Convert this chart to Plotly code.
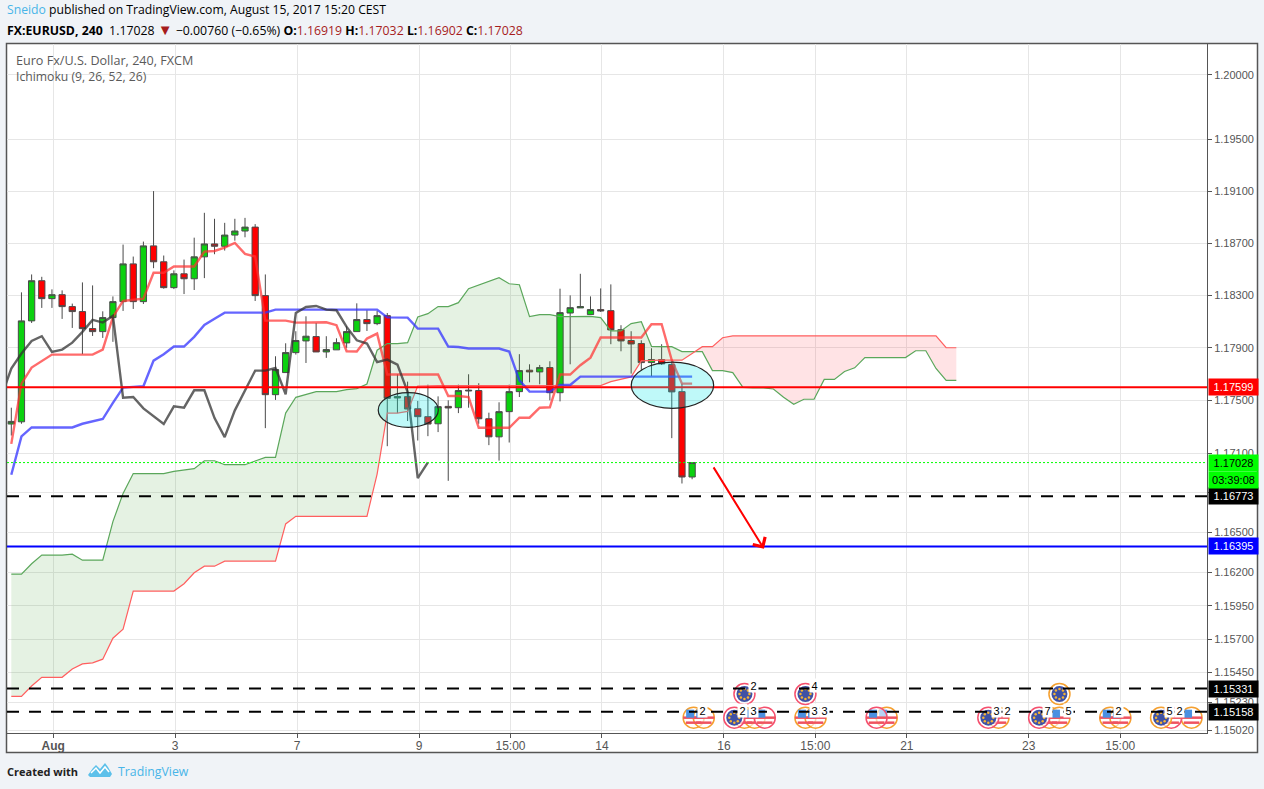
# EUR/USD 4h chart with Ichimoku cloud, TradingView style
import math
import plotly.graph_objects as go

opens = [1.17320, 1.17337, 1.18105, 1.18412, 1.18275, 1.18305, 1.18214, 1.18176, 1.18046, 1.18023,
         1.18130, 1.18252, 1.18541, 1.18252, 1.18679, 1.18557, 1.18359, 1.18465, 1.18427, 1.18595,
         1.18694, 1.18676, 1.18762, 1.18793, 1.18823, 1.18298, 1.17543, 1.17711, 1.17863, 1.17952,
         1.17985, 1.17868, 1.17884, 1.17937, 1.18023, 1.18115, 1.18084, 1.18145, 1.17518, 1.17528,
         1.17436, 1.17376, 1.17322, 1.17454, 1.17444, 1.17571, 1.17574, 1.17360, 1.17223, 1.17414,
         1.17566, 1.17729, 1.17716, 1.17749, 1.17558, 1.18165, 1.18204, 1.18153, 1.18191, 1.18183,
         1.18038, 1.17955, 1.17932, 1.17787, 1.17810, 1.17772, 1.17566, 1.16919]
highs = [1.17444, 1.18323, 1.18460, 1.18442, 1.18346, 1.18338, 1.18237, 1.18399, 1.18376, 1.18178,
         1.18292, 1.18689, 1.18597, 1.18712, 1.19100, 1.18605, 1.18491, 1.18574, 1.18742, 1.18933,
         1.18887, 1.18856, 1.18887, 1.18894, 1.18846, 1.18460, 1.17835, 1.17934, 1.18026, 1.18140,
         1.18089, 1.17988, 1.17972, 1.18064, 1.18239, 1.18186, 1.18181, 1.18165, 1.17698, 1.17642,
         1.17495, 1.17619, 1.17530, 1.17500, 1.17619, 1.17698, 1.17630, 1.17406, 1.17485, 1.17619,
         1.17851, 1.17774, 1.17769, 1.17797, 1.18351, 1.18300, 1.18465, 1.18292, 1.18353, 1.18384,
         1.18072, 1.18026, 1.17957, 1.17896, 1.17927, 1.17792, 1.17627, 1.17032]
lows = [1.17233, 1.17322, 1.18089, 1.18204, 1.18204, 1.18120, 1.18051, 1.17851, 1.17990, 1.17975,
        1.17945, 1.18181, 1.18196, 1.18234, 1.18508, 1.18351, 1.18348, 1.18310, 1.18341, 1.18432,
        1.18615, 1.18643, 1.18719, 1.18745, 1.18257, 1.17289, 1.17503, 1.17711, 1.17848, 1.17784,
        1.17868, 1.17823, 1.17884, 1.17899, 1.18023, 1.18028, 1.18072, 1.17152, 1.17403, 1.17343,
        1.17195, 1.17228, 1.17259, 1.16890, 1.17403, 1.17444, 1.17322, 1.17160, 1.17043, 1.17180,
        1.17525, 1.17637, 1.17622, 1.17500, 1.17492, 1.17774, 1.18204, 1.18153, 1.18173, 1.17927,
        1.17873, 1.17703, 1.17729, 1.17683, 1.17769, 1.17213, 1.16870, 1.16902]
closes = [1.17340, 1.18105, 1.18412, 1.18275, 1.18305, 1.18214, 1.18176, 1.18046, 1.18023, 1.18130,
          1.18252, 1.18541, 1.18252, 1.18679, 1.18557, 1.18359, 1.18465, 1.18427, 1.18595, 1.18694,
          1.18676, 1.18762, 1.18793, 1.18823, 1.18298, 1.17543, 1.17734, 1.17863, 1.17955, 1.17988,
          1.17868, 1.17886, 1.17939, 1.18023, 1.18115, 1.18084, 1.18145, 1.17515, 1.17528, 1.17434,
          1.17376, 1.17320, 1.17452, 1.17442, 1.17574, 1.17576, 1.17360, 1.17223, 1.17414, 1.17566,
          1.17726, 1.17716, 1.17749, 1.17558, 1.18168, 1.18206, 1.18214, 1.18191, 1.18181, 1.18036,
          1.17952, 1.17929, 1.17787, 1.17810, 1.17777, 1.17564, 1.16919, 1.17028]

tenkan = [1.17170, 1.17627, 1.17749, 1.17800, 1.17848, 1.17848, 1.17848, 1.17848, 1.17848, 1.17886,
          1.18135, 1.18257, 1.18267, 1.18275, 1.18473, 1.18473, 1.18521, 1.18521, 1.18521, 1.18635,
          1.18640, 1.18666, 1.18701, 1.18618, 1.18597, 1.18107, 1.18107, 1.18107, 1.18092, 1.18094,
          1.18094, 1.18094, 1.18072, 1.17873, 1.17871, 1.17970, 1.18008, 1.17696, 1.17696, 1.17696,
          1.17696, 1.17696, 1.17696, 1.17533, 1.17533, 1.17525, 1.17292, 1.17292, 1.17292, 1.17292,
          1.17368, 1.17368, 1.17444, 1.17447, 1.17696, 1.17696, 1.17767, 1.17825, 1.17978, 1.17978,
          1.17978, 1.17978, 1.17978, 1.18079, 1.18079, 1.17805, 1.17627, 1.17627]
kijun = [1.16936, 1.17226, 1.17294, 1.17294, 1.17294, 1.17294, 1.17294, 1.17322, 1.17340, 1.17358,
         1.17480, 1.17597, 1.17602, 1.17607, 1.17802, 1.17851, 1.17909, 1.17909, 1.17983, 1.18074,
         1.18122, 1.18168, 1.18168, 1.18168, 1.18168, 1.18168, 1.18191, 1.18191, 1.18191, 1.18191,
         1.18191, 1.18191, 1.18191, 1.18191, 1.18191, 1.18191, 1.18191, 1.18132, 1.18130, 1.18130,
         1.18046, 1.18046, 1.18046, 1.17909, 1.17906, 1.17894, 1.17894, 1.17894, 1.17894, 1.17871,
         1.17652, 1.17566, 1.17566, 1.17566, 1.17617, 1.17617, 1.17680, 1.17680, 1.17680, 1.17680,
         1.17680, 1.17680, 1.17680, 1.17680, 1.17680, 1.17680, 1.17680, 1.17680]
# lagging line starts one bar left of the first candle
chikou = [1.17525, 1.17741, 1.17856, 1.17952, 1.17988, 1.17868, 1.17886, 1.17939, 1.18021, 1.18112,
          1.18092, 1.18143, 1.17520, 1.17525, 1.17439, 1.17378, 1.17320, 1.17454, 1.17444, 1.17576,
          1.17576, 1.17365, 1.17221, 1.17424, 1.17576, 1.17726, 1.17726, 1.17746, 1.17546, 1.18165,
          1.18211, 1.18219, 1.18191, 1.18186, 1.18059, 1.17957, 1.17932, 1.17790, 1.17810, 1.17772,
          1.17564, 1.16911, 1.17030]
senkou_a = [1.16187, 1.16187, 1.16265, 1.16330, 1.16330, 1.16330, 1.16337, 1.16292, 1.16292, 1.16292,
            1.16582, 1.16795, 1.16945, 1.16945, 1.16945, 1.16945, 1.16962, 1.16970, 1.16982, 1.17042,
            1.17042, 1.17012, 1.17012, 1.17012, 1.17040, 1.17067, 1.17067, 1.17403, 1.17523, 1.17543,
            1.17566, 1.17566, 1.17566, 1.17581, 1.17589, 1.17624, 1.17881, 1.17932, 1.17932, 1.17939,
            1.18135, 1.18160, 1.18214, 1.18214, 1.18244, 1.18351, 1.18381, 1.18409, 1.18435, 1.18389,
            1.18381, 1.18138, 1.18153, 1.18153, 1.18138, 1.18138, 1.18138, 1.18140, 1.18130, 1.18028,
            1.18028, 1.18084, 1.18099, 1.17911, 1.17908, 1.17908, 1.17871, 1.17871, 1.17870, 1.17726,
            1.17726, 1.17711, 1.17598, 1.17595, 1.17595, 1.17586, 1.17523, 1.17470, 1.17508, 1.17508,
            1.17659, 1.17659, 1.17719, 1.17747, 1.17825, 1.17825, 1.17825, 1.17825, 1.17825, 1.17877,
            1.17877, 1.17742, 1.17651, 1.17651]
senkou_b = [1.15272, 1.15272, 1.15350, 1.15415, 1.15415, 1.15415, 1.15477, 1.15515, 1.15523, 1.15550,
            1.15707, 1.15775, 1.16060, 1.16060, 1.16060, 1.16060, 1.16060, 1.16115, 1.16197, 1.16247,
            1.16247, 1.16285, 1.16285, 1.16285, 1.16285, 1.16285, 1.16285, 1.16565, 1.16622, 1.16622,
            1.16622, 1.16622, 1.16622, 1.16622, 1.16622, 1.16622, 1.16941, 1.17403, 1.17403, 1.17416,
            1.17609, 1.17612, 1.17612, 1.17612, 1.17612, 1.17612, 1.17612, 1.17612, 1.17612, 1.17612,
            1.17612, 1.17612, 1.17612, 1.17612, 1.17612, 1.17612, 1.17612, 1.17612, 1.17612, 1.17642,
            1.17660, 1.17678, 1.17800, 1.17805, 1.17805, 1.17805, 1.17805, 1.17856, 1.17908, 1.17908,
            1.17976, 1.17991, 1.17991, 1.17991, 1.17991, 1.17991, 1.17991, 1.17991, 1.17991, 1.17991,
            1.17991, 1.17991, 1.17991, 1.17991, 1.17991, 1.17991, 1.17991, 1.17991, 1.17991, 1.17991,
            1.17991, 1.17991, 1.17900, 1.17900]

ytick_vals = [1.2, 1.195, 1.191, 1.187, 1.183, 1.179, 1.175, 1.171, 1.168, 1.165,
              1.162, 1.1595, 1.157, 1.1545, 1.1523, 1.1502]
# 1.168 sits wholly behind the black price tag, only its grid line shows
ytick_hidden = [1.168]
xtick_bars = [4, 16, 28, 40, 49, 58, 70, 79, 88, 100, 109]
xtick_text = ["<b>Aug</b>", "3", "7", "9", "15:00", "14", "16", "15:00", "21", "23", "15:00"]

# drawn levels: price, label background, label text, line colour, width, dash
last_price = 1.17028
levels = [(1.17599, "#ff0000", "white", "#ff0000", 2, "solid"),
          (1.17028, "#00ff00", "black", "#00ff00", 1, "2px,2px"),
          (1.16773, "#000000", "white", "#000000", 2, "12px,10px"),
          (1.16395, "#0000ff", "white", "#0000ff", 2, "solid"),
          (1.15331, "#000000", "white", "#000000", 2, "12px,10px"),
          (1.15158, "#000000", "white", "#000000", 2, "12px,10px")]

# calendar events: bars of the flags on the two rows
row_low = 1.15114
row_high = 1.15290
us_orange = [67, 68, 72, 73, 78, 79, 86, 97, 102, 103, 108, 109, 116]
us_red = [74, 85, 114]
eu_red_low = [71, 96, 101]
eu_orange_low = [113]
eu_red_high = [72, 78]
eu_orange_high = [103]
event_counts_low = [(68, "2"), (72, "2"), (73, "3"), (79, "3"), (80, "3"), (97, "3"), (98, "2"),
                    (102, "7"), (104, "5"), (109, "2"), (114, "5"), (115, "2")]
event_counts_high = [(73, "2"), (79, "4")]
count_low = 1.15165
count_high = 1.15350

# page geometry
W, H = 1264, 789
L, R, T, B = 7, 57, 44, 56
BAR = 10.162  # px per bar
PX_LOG = 15470  # px per unit of ln(price)
FONT = "Liberation Sans"
HEAD = "Open Sans"
BLUE = "#48b5e8"
DARK = "#a61c1c"


def px(x):
    return (x - L) / (W - L - R)


def py(y):
    return 1 - (y - T) / (H - T - B)


def nudge(price, dy):
    return price * math.exp(-dy / PX_LOG)


bars = list(range(len(closes)))
cloud_x = list(range(len(senkou_a)))

fig = go.Figure()

# cloud, split where the two spans cross
cross = next(i for i in cloud_x if senkou_b[i] > senkou_a[i])
t = (senkou_a[cross - 1] - senkou_b[cross - 1]) / (
    (senkou_a[cross - 1] - senkou_b[cross - 1]) + (senkou_b[cross] - senkou_a[cross]))
cross_x = cross - 1 + t
cross_y = senkou_a[cross - 1] + t * (senkou_a[cross] - senkou_a[cross - 1])

fig.add_trace(go.Scatter(
    x=cloud_x[:cross] + [cross_x] + cloud_x[:cross][::-1],
    y=senkou_a[:cross] + [cross_y] + senkou_b[:cross][::-1],
    mode="none", fill="toself", fillcolor="rgba(70,160,60,0.14)"))
fig.add_trace(go.Scatter(
    x=[cross_x] + cloud_x[cross:] + cloud_x[cross:][::-1],
    y=[cross_y] + senkou_a[cross:] + senkou_b[cross:][::-1],
    mode="none", fill="toself", fillcolor="rgba(255,60,70,0.14)"))
fig.add_trace(go.Scatter(x=cloud_x, y=senkou_a, mode="lines",
                         line=dict(color="#5ba75b", width=1.2)))
fig.add_trace(go.Scatter(x=cloud_x, y=senkou_b, mode="lines",
                         line=dict(color="#ff5f5f", width=1.2)))

fig.add_trace(go.Scatter(x=bars, y=kijun, mode="lines",
                         line=dict(color="rgba(50,50,255,0.75)", width=2.4)))
fig.add_trace(go.Scatter(x=bars, y=tenkan, mode="lines",
                         line=dict(color="rgba(255,50,50,0.72)", width=2.4)))
fig.add_trace(go.Scatter(x=list(range(-1, len(chikou) - 1)), y=chikou, mode="lines",
                         line=dict(color="rgba(50,50,50,0.75)", width=2.4)))

fig.add_trace(go.Candlestick(
    x=bars, open=opens, high=highs, low=lows, close=closes,
    increasing=dict(fillcolor="#0bd10f", line=dict(color="#4a4a4a", width=1)),
    decreasing=dict(fillcolor="#ff0000", line=dict(color="#4a4a4a", width=1)),
    whiskerwidth=0))

# flags, as stacked markers
def flag_us(xs, price, ring):
    xs = [v + 0.15 for v in xs]
    fig.add_trace(go.Scatter(x=xs, y=[price] * len(xs), mode="markers", marker=dict(
        size=21, color="rgba(255,255,255,0.6)", line=dict(color=ring, width=1.5))))
    fig.add_trace(go.Scatter(x=xs, y=[nudge(price, 0)] * len(xs), mode="markers", marker=dict(
        symbol="line-ew", size=15, line=dict(color="#ef5360", width=2.5))))
    fig.add_trace(go.Scatter(x=xs, y=[nudge(price, 5)] * len(xs), mode="markers", marker=dict(
        symbol="line-ew", size=11, line=dict(color="#ef5360", width=2.5))))
    fig.add_trace(go.Scatter(x=[v - 3.5 / BAR for v in xs], y=[nudge(price, -4)] * len(xs),
                             mode="markers", marker=dict(symbol="square", size=8, color="#4a90e2")))


def flag_eu(xs, price, ring):
    xs = [v + 0.15 for v in xs]
    fig.add_trace(go.Scatter(x=xs, y=[price] * len(xs), mode="markers", marker=dict(
        size=21, color="rgba(255,255,255,0.6)", line=dict(color=ring, width=1.5))))
    fig.add_trace(go.Scatter(x=xs, y=[price] * len(xs), mode="markers", marker=dict(
        size=16, color="#3f51a5")))
    dots_x, dots_y = [], []
    for v in xs:
        for k in range(8):
            a = k * math.pi / 4
            dots_x.append(v + 5 * math.cos(a) / BAR)
            dots_y.append(nudge(price, 5 * math.sin(a)))
    fig.add_trace(go.Scatter(x=dots_x, y=dots_y, mode="markers", marker=dict(size=2.5, color="#f5b335")))


flag_us(us_orange, row_low, "#f5a030")
flag_us(us_red, row_low, "#f5506e")
flag_eu(eu_red_low, row_low, "#f5506e")
flag_eu(eu_orange_low, row_low, "#f5a030")
flag_eu(eu_red_high, row_high, "#f5506e")
flag_eu(eu_orange_high, row_high, "#f5a030")

shapes = [dict(type="rect", xref="paper", yref="paper", layer="below",
               x0=px(6.5), x1=px(1257.5), y0=py(43.5), y1=py(752.5),
               fillcolor="white", line=dict(color="#555555", width=1.5))]
for price, _, _, color, width, dash in levels:
    shapes.append(dict(type="line", xref="paper", x0=0, x1=1, yref="y", y0=price, y1=price,
                       line=dict(color=color, width=width, dash=dash)))
# marked areas
shapes.append(dict(type="circle", xref="x", yref="y", x0=36.11, x1=42.02, y0=1.17295, y1=1.17558,
                   fillcolor="rgba(0,230,230,0.25)", line=dict(color="#222222", width=1.2)))
shapes.append(dict(type="circle", xref="x", yref="y", x0=61.01, x1=69.12, y0=1.17439, y1=1.17790,
                   fillcolor="rgba(0,230,230,0.25)", line=dict(color="#222222", width=1.2)))
# TradingView logo
shapes.append(dict(type="path", xref="paper", yref="paper", line=dict(width=0), fillcolor="#5cc0ea",
                   path="M " + " L ".join(f"{px(a)} {py(b)}" for a, b in [
                       (88, 775), (93, 768), (96, 765), (100, 769), (105, 763), (108, 767),
                       (112, 774), (110, 777), (90, 777)]) + " Z"))
shapes.append(dict(type="path", xref="paper", yref="paper", line=dict(color="white", width=1.5),
                   path="M " + " L ".join(f"{px(a)} {py(b)}" for a, b in [
                       (91, 773), (96, 768), (100, 773), (105, 767), (109, 772)])))

annotations = []


def text(x, y, s, color="#000000", size=12, family=HEAD):
    annotations.append(dict(xref="paper", yref="paper", x=px(x), y=py(y), text=s, showarrow=False,
                            xanchor="left", yanchor="middle", font=dict(color=color, size=size, family=family)))


def price_tag(price, s, bg, fg, shift=0):
    annotations.append(dict(xref="paper", yref="y", x=px(1207.5), y=math.log10(price), text=s,
                            showarrow=False, xanchor="left", yanchor="middle", yshift=shift,
                            width=49, height=16, borderpad=0, bgcolor=bg, align="center", valign="middle",
                            font=dict(color=fg, size=11, family=FONT)))


text(5, 9, f'<span style="color:{BLUE}">Sneido</span> published on TradingView.com, August 15, 2017 15:20 CEST',
     size=12.2)
text(5, 29, "<b>FX:EURUSD, 240</b>  1.17028 "
     f'<span style="color:{DARK};font-size:15px">▼</span> −0.00760 (−0.65%) '
     f'<b>O:</b><span style="color:{DARK}">1.16919</span> '
     f'<b>H:</b><span style="color:{DARK}">1.17032</span> '
     f'<b>L:</b><span style="color:{DARK}">1.16902</span> '
     f'<b>C:</b><span style="color:{DARK}">1.17028</span>', size=12.3)
text(14, 60, "Euro Fx/U.S. Dollar, 240, FXCM", color="#5a5a5a", size=12.6)
text(14, 77, "Ichimoku (9, 26, 52, 26)", color="#5a5a5a", size=12.2)
text(5, 771, "<b>Created with</b>", color="#222222", size=11)
text(116, 771, "TradingView", color=BLUE, size=12.3)

for price, bg, fg, _, _, _ in levels:
    price_tag(price, f"{price:.5f}", bg, fg)
price_tag(last_price, "03:39:08", "#00ff00", "black", shift=-17)

for bar, n in event_counts_low:
    annotations.append(dict(x=bar, y=math.log10(count_low), text=n, showarrow=False, width=9, height=13,
                            borderpad=0, bgcolor="white", font=dict(color="black", size=11, family=FONT)))
for bar, n in event_counts_high:
    annotations.append(dict(x=bar, y=math.log10(count_high), text=n, showarrow=False, width=9, height=13,
                            borderpad=0, bgcolor="white", font=dict(color="black", size=11, family=FONT)))

# the projected move
annotations.append(dict(x=74.07, y=math.log10(1.16378), ax=69.02, ay=math.log10(1.17003),
                        axref="x", ayref="y", xref="x", yref="y", text="", showarrow=True,
                        arrowhead=4, arrowsize=1.4, arrowwidth=2, arrowcolor="#ff0000", standoff=0))

fig.update_layout(
    template="none",
    width=W, height=H,
    margin=dict(l=L, r=R, t=T, b=B, pad=0),
    paper_bgcolor="#f0f3f7",
    plot_bgcolor="white",
    showlegend=False,
    hovermode=False,
    boxgap=0.12,
    shapes=shapes,
    annotations=annotations,
    font=dict(family=FONT, color="#555555", size=12),
    xaxis=dict(
        range=[-0.423, 117.67],
        tickmode="array",
        tickvals=[b + 0.13 for b in xtick_bars],
        ticktext=xtick_text,
        ticks="outside", ticklen=4, tickcolor="#555555",
        ticklabelstandoff=-2,
        showgrid=True, gridcolor="#e6e6e6", gridwidth=1,
        showline=True, linecolor="#555555", linewidth=1,
        zeroline=False,
        rangeslider=dict(visible=False),
        tickfont=dict(size=12, color="#555555"),
    ),
    yaxis=dict(
        type="log",
        side="right",
        range=[math.log10(1.15000), math.log10(1.20238)],
        tickmode="array",
        tickvals=ytick_vals,
        ticktext=["" if v in ytick_hidden else f"{v:.5f}" for v in ytick_vals],
        ticks="outside", ticklen=4, tickcolor="#555555",
        showgrid=True, gridcolor="#e6e6e6", gridwidth=1,
        showline=True, linecolor="#555555", linewidth=1,
        zeroline=False,
        tickfont=dict(size=11, color="#555555"),
    ),
)

fig.write_html("out.html", config=dict(displayModeBar=False),
               post_script="document.body.style.margin='0';")
